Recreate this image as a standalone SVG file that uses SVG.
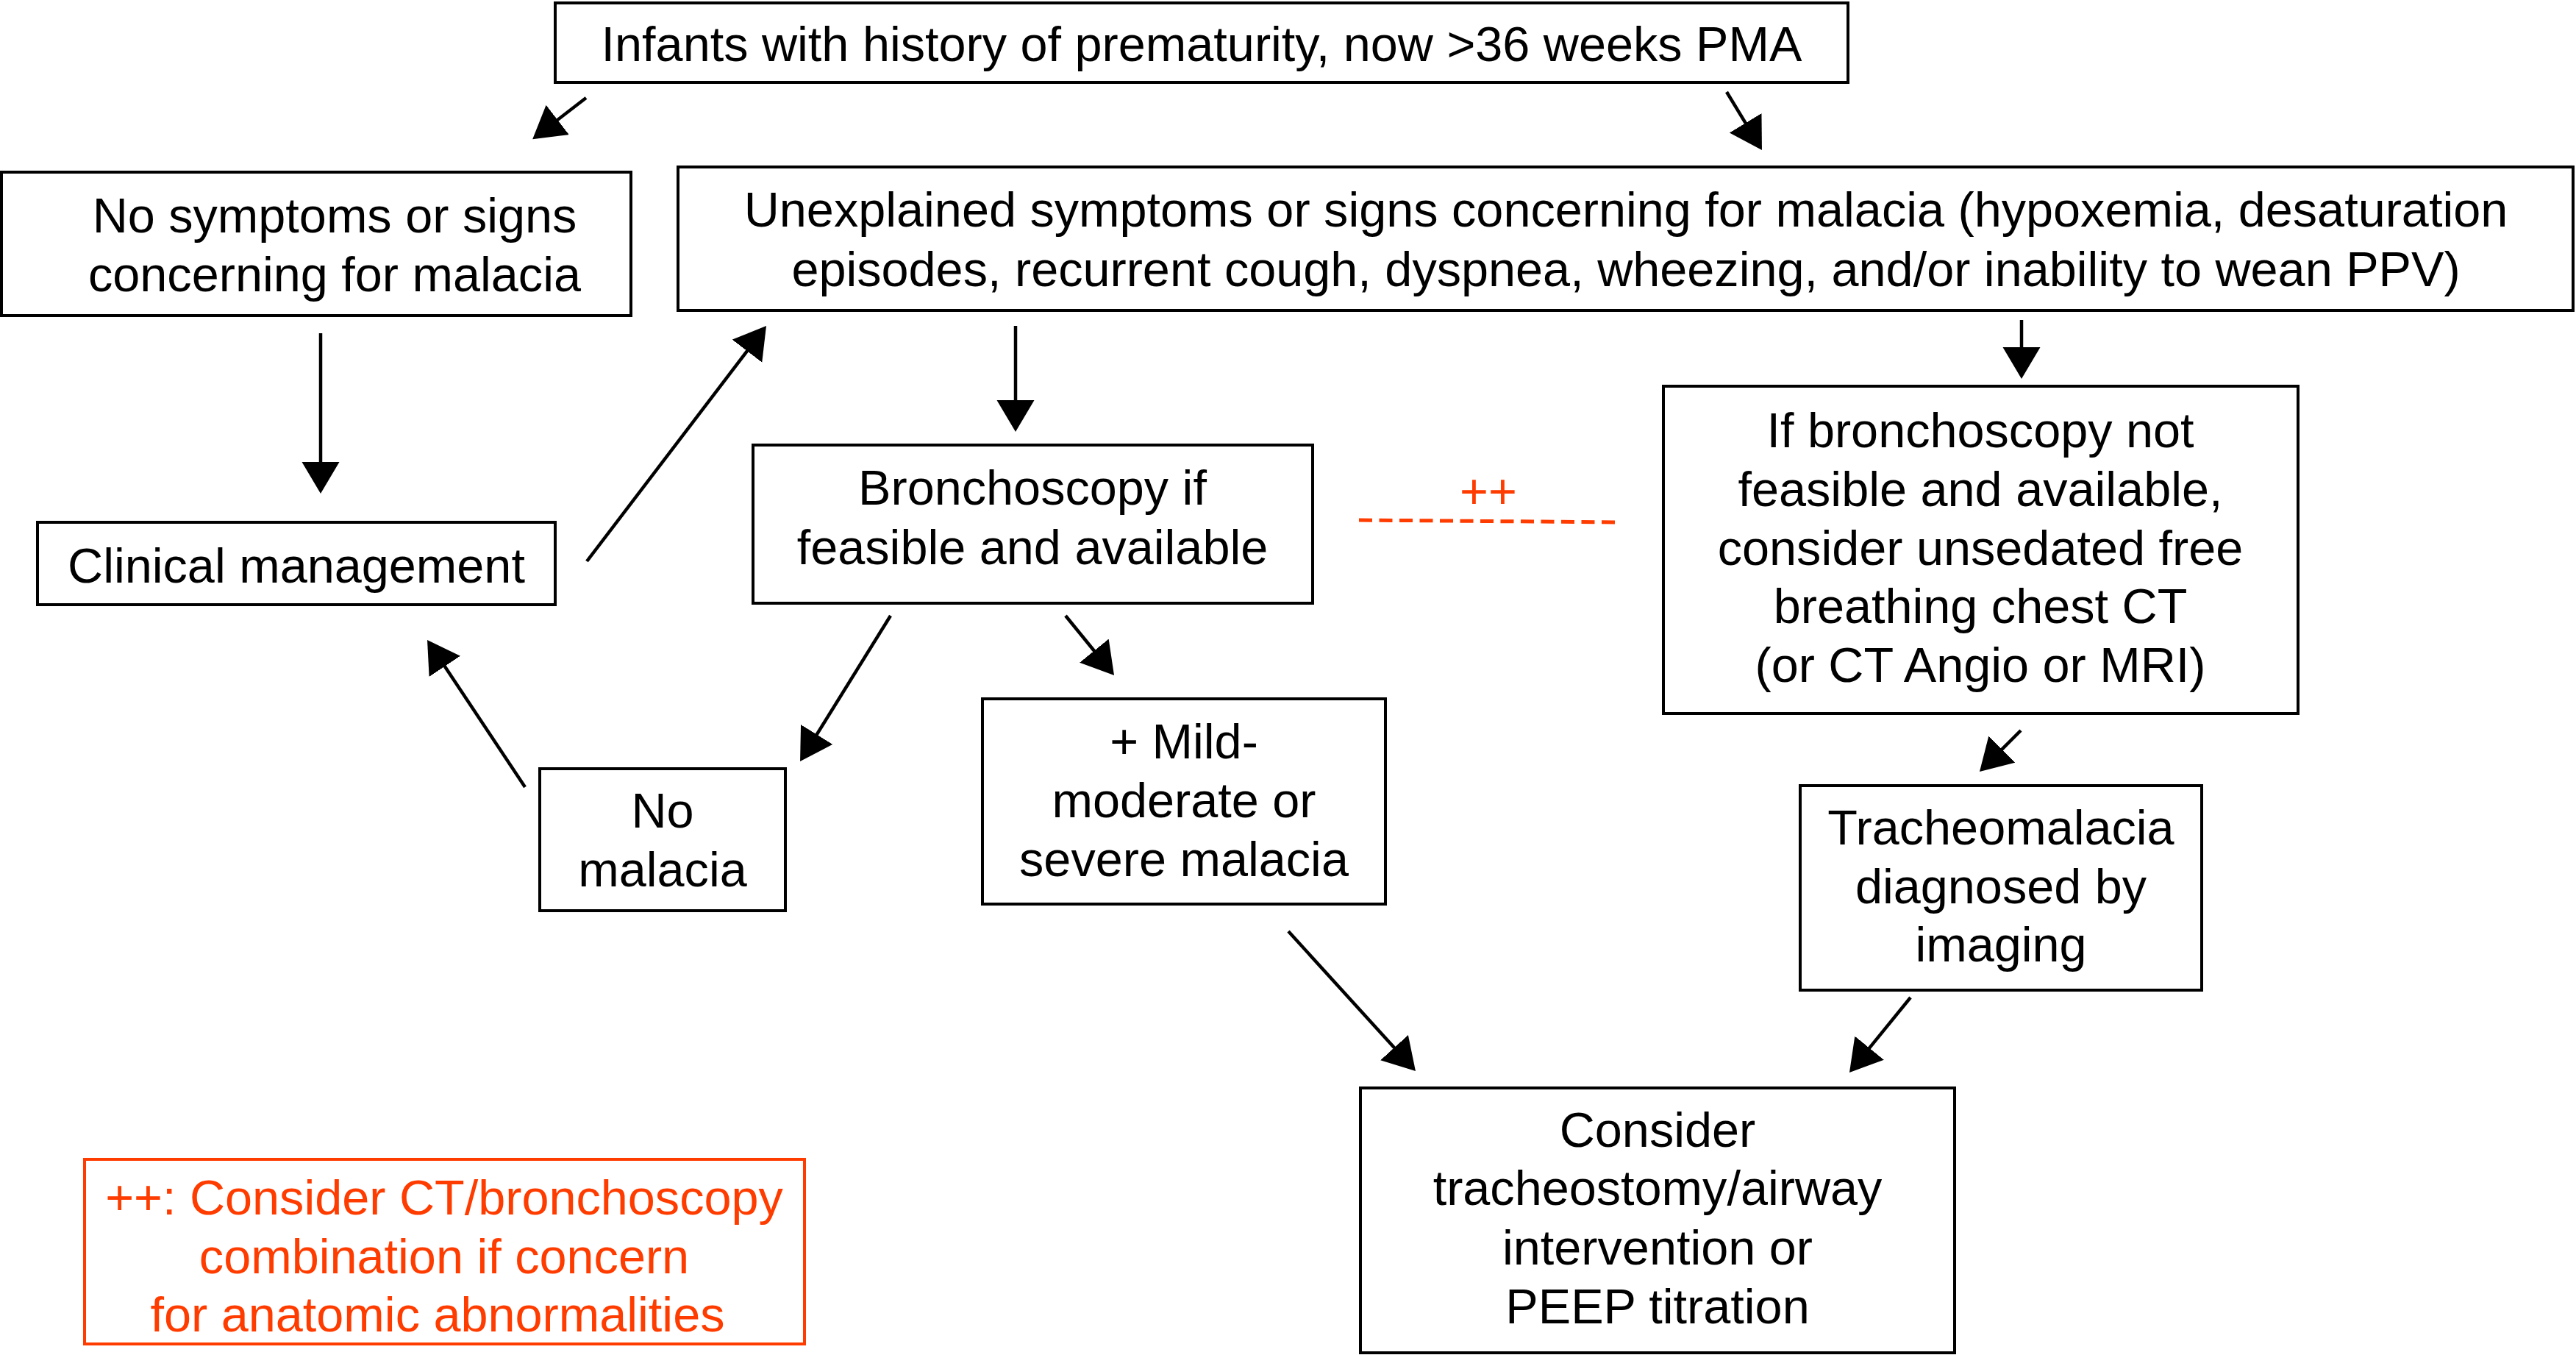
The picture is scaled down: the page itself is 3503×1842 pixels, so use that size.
<svg xmlns="http://www.w3.org/2000/svg" width="3503" height="1842" viewBox="0 0 3503 1842">
<style>
rect.box{fill:#fff;stroke:#000;stroke-width:4}
rect.note{fill:#fff;stroke:#ff3c00;stroke-width:4}
text{font-family:"Liberation Sans",Arial,Helvetica,sans-serif;font-size:66.6px;fill:#000;text-anchor:middle}
text.red{fill:#ff3c00}
.conn line{stroke:#000;stroke-width:4.5;marker-end:url(#ah)}
.dash{stroke:#ff3c00;stroke-width:5;stroke-dasharray:18 9.5;fill:none}
</style>
<defs>
<marker id="ah" markerUnits="userSpaceOnUse" markerWidth="44" markerHeight="52" refX="23" refY="25.5" orient="auto" viewBox="0 0 44 52">
<path d="M0,0 L43,25.5 L0,51 Z" fill="#000"/>
</marker>
</defs>
<rect width="3503" height="1842" fill="#fff"/>
<g id="connectors" class="conn">
<line x1="797" y1="133" x2="740" y2="177"/>
<line x1="2348" y1="125" x2="2385.6" y2="186.9"/>
<line x1="436" y1="453" x2="436" y2="651"/>
<line x1="798" y1="763" x2="1029.9" y2="458.9"/>
<line x1="1381" y1="443" x2="1381" y2="567"/>
<line x1="2749" y1="435" x2="2749" y2="495"/>
<line x1="1211" y1="837" x2="1098.6" y2="1018"/>
<line x1="1449" y1="837" x2="1502.4" y2="902.5"/>
<line x1="714" y1="1070" x2="592.1" y2="886.7"/>
<line x1="2748" y1="993" x2="2706.1" y2="1034.9"/>
<line x1="1752" y1="1266" x2="1911.5" y2="1441.2"/>
<line x1="2598" y1="1356" x2="2527.6" y2="1442.5"/>
<path class="dash" d="M1848,707 L2201,710"/>
<text class="red" x="2024" y="691">++</text>
</g>
<g id="n-top"><rect class="box" x="755" y="4" width="1758" height="108"/><text x="1634" y="83">Infants with history of prematurity, now &gt;36 weeks PMA</text></g>
<g id="n-nosym"><rect class="box" x="2" y="234" width="856" height="195"/><text x="455" y="316">No symptoms or signs</text><text x="455" y="396">concerning for malacia</text></g>
<g id="n-clinical"><rect class="box" x="51" y="710" width="704" height="112"/><text x="403" y="792">Clinical management</text></g>
<g id="n-unexpl"><rect class="box" x="922" y="227" width="2577" height="195"/><text x="2211" y="308">Unexplained symptoms or signs concerning for malacia (hypoxemia, desaturation</text><text x="2211" y="389">episodes, recurrent cough, dyspnea, wheezing, and/or inability to wean PPV)</text></g>
<g id="n-bronch"><rect class="box" x="1024" y="605" width="761" height="215"/><text x="1404" y="686">Bronchoscopy if</text><text x="1404" y="767">feasible and available</text></g>
<g id="n-ifbronch"><rect class="box" x="2262" y="525" width="863" height="445"/><text x="2693" y="608">If bronchoscopy not</text><text x="2693" y="688">feasible and available,</text><text x="2693" y="768">consider unsedated free</text><text x="2693" y="847">breathing chest CT</text><text x="2693" y="927">(or CT Angio or MRI)</text></g>
<g id="n-nomal"><rect class="box" x="734" y="1045" width="334" height="193"/><text x="901" y="1125">No</text><text x="901" y="1205">malacia</text></g>
<g id="n-mild"><rect class="box" x="1336" y="950" width="548" height="279"/><text x="1610" y="1031">+ Mild-</text><text x="1610" y="1111">moderate or</text><text x="1610" y="1191">severe malacia</text></g>
<g id="n-trach"><rect class="box" x="2448" y="1068" width="546" height="278"/><text x="2721" y="1148">Tracheomalacia</text><text x="2721" y="1228">diagnosed by</text><text x="2721" y="1307">imaging</text></g>
<g id="n-bottom"><rect class="box" x="1850" y="1479" width="808" height="360"/><text x="2254" y="1559">Consider</text><text x="2254" y="1638">tracheostomy/airway</text><text x="2254" y="1719">intervention or</text><text x="2254" y="1799">PEEP titration</text></g>
<g id="n-note"><rect class="note" x="115" y="1576" width="979" height="251"/><text class="red" x="604" y="1651">++: Consider CT/bronchoscopy</text><text class="red" x="604" y="1731">combination if concern</text><text class="red" x="595" y="1810">for anatomic abnormalities</text></g>
</svg>
